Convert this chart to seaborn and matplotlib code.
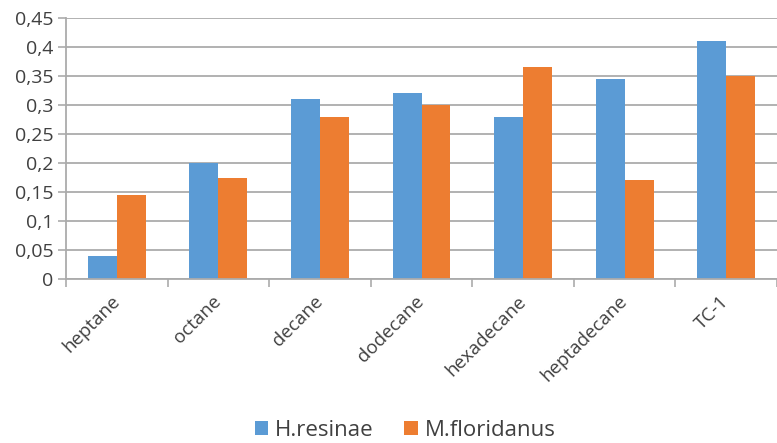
import matplotlib
matplotlib.use("Agg")
import matplotlib.pyplot as plt
from matplotlib.ticker import FixedLocator, FuncFormatter, MultipleLocator
import pandas as pd
import seaborn as sns

categories = ["heptane", "octane", "decane", "dodecane", "hexadecane", "heptadecane", "TC-1"]
h_resinae = [0.04, 0.20, 0.31, 0.32, 0.28, 0.345, 0.41]
m_floridanus = [0.145, 0.175, 0.28, 0.30, 0.365, 0.17, 0.35]
series_names = ["H.resinae", "M.floridanus"]
series_colors = ["#5B9BD5", "#ED7D31"]

df = pd.DataFrame({
    "category": categories * 2,
    "value": h_resinae + m_floridanus,
    "series": [series_names[0]] * len(categories) + [series_names[1]] * len(categories),
})

sns.set_theme(style="white")
plt.rcParams["font.family"] = ["Open Sans", "DejaVu Sans"]
text_color = "#404040"
grid_color = "#ababab"

fig = plt.figure(figsize=(7.77, 4.43), dpi=100)
ax = fig.add_axes([66 / 777, 1 - 279 / 443, 711 / 777, 261 / 443])

sns.barplot(
    data=df, x="category", y="value", hue="series",
    order=categories, hue_order=series_names,
    palette=series_colors, width=0.57, saturation=1,
    edgecolor="none", ax=ax,
)

ax.set_ylim(0, 0.45)
ax.set_xlim(-0.5, len(categories) - 0.5)
ax.yaxis.set_major_locator(MultipleLocator(0.05))
ax.yaxis.set_major_formatter(FuncFormatter(lambda v, _: f"{round(v, 2):g}".replace(".", ",")))
ax.yaxis.grid(True, color=grid_color, linewidth=1.3)
ax.set_axisbelow(True)

for side in ("top", "right"):
    ax.spines[side].set_visible(False)
for side in ("left", "bottom"):
    ax.spines[side].set_color(grid_color)
    ax.spines[side].set_linewidth(1.3)

ax.tick_params(axis="y", which="major", left=True, length=6, width=1.2,
               color=grid_color, labelsize=14, labelcolor=text_color, pad=3)
ax.tick_params(axis="x", which="major", bottom=False, length=0, labelsize=13.5,
               labelcolor=text_color, pad=14)
ax.xaxis.set_minor_locator(FixedLocator([i - 0.5 for i in range(len(categories) + 1)]))
ax.tick_params(axis="x", which="minor", bottom=True, length=6, width=1.2, color=grid_color)

for lbl in ax.get_xticklabels():
    lbl.set_rotation(45)
    lbl.set_ha("right")
    lbl.set_va("center")
    lbl.set_rotation_mode("anchor")

ax.set_xlabel("")
ax.set_ylabel("")

handles, labels = ax.get_legend_handles_labels()
ax.get_legend().remove()
fig.legend(
    handles, labels, loc="center", bbox_to_anchor=(405 / 777, 1 - 430 / 443),
    ncol=2, frameon=False, fontsize=16, labelcolor=text_color,
    handlelength=0.6, handleheight=0.6, handletextpad=0.3, columnspacing=1.4,
    borderpad=0.1,
)

fig.savefig("out.png", dpi=100, facecolor="white")
